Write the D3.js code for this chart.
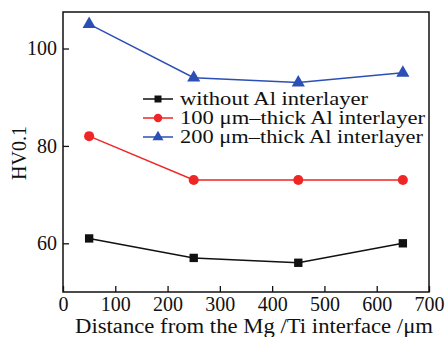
<!DOCTYPE html>
<html>
<head>
<meta charset="utf-8">
<script src="https://cdn.jsdelivr.net/npm/d3@7/dist/d3.min.js"></script>
<style>
  body { margin: 0; background: #fff; }
</style>
</head>
<body>
<div id="chart"></div>
<script>
// data
var distances = [50, 250, 450, 650];
var withoutAl = [61, 57, 56, 60];
var al100 = [82, 73, 73, 73];
var al200 = [105, 94, 93, 95];
var seriesNames = ["without Al interlayer", "100 \u03bcm\u2013thick Al interlayer", "200 \u03bcm\u2013thick Al interlayer"];
var xTicks = [0, 100, 200, 300, 400, 500, 600, 700];
var yTicks = [60, 80, 100];

var svgWidth = 448;
var svgHeight = 337;
var margin = {left: 63, right: 19, top: 12, bottom: 45};
var w = svgWidth - margin.left - margin.right;
var h = svgHeight - margin.top - margin.bottom;
var serif = "'Liberation Serif', 'Times New Roman', Times, serif";

var svg = d3.select("#chart")
  .append("svg")
  .attr("width", svgWidth)
  .attr("height", svgHeight)
  .attr("font-family", serif);

var g = svg.append("g")
  .attr("transform", "translate(" + margin.left + "," + margin.top + ")");

var xScale = d3.scaleLinear().domain([0, 700]).range([0, w]);
var yScale = d3.scaleLinear().domain([50, 107.5]).range([h, 0]);

// frame
g.append("rect")
  .attr("width", w)
  .attr("height", h)
  .attr("fill", "none")
  .attr("stroke", "#111")
  .attr("stroke-width", 1.5);

// axes, ticks pointing in
var xAxis = g.append("g")
  .attr("transform", "translate(0," + h + ")")
  .call(d3.axisBottom(xScale).tickValues(xTicks).tickSizeInner(-6).tickSizeOuter(0).tickPadding(5));
var yAxis = g.append("g")
  .call(d3.axisLeft(yScale).tickValues(yTicks).tickSizeInner(-6).tickSizeOuter(0).tickPadding(6));

[xAxis, yAxis].forEach(function(ax) {
  ax.attr("font-family", serif).attr("font-size", 20);
  ax.select(".domain").remove();
  ax.selectAll("line").attr("stroke", "#111").attr("stroke-width", 1.3);
  ax.selectAll("text").attr("fill", "#111");
});
xAxis.selectAll("text").attr("dy", "0.7em");

// axis titles
svg.append("text")
  .attr("x", 254)
  .attr("y", 333)
  .attr("text-anchor", "middle")
  .attr("font-size", 20)
  .attr("textLength", 358)
  .attr("lengthAdjust", "spacingAndGlyphs")
  .attr("fill", "#111")
  .text("Distance from the Mg /Ti interface /\u03bcm");

svg.append("text")
  .attr("transform", "translate(26,153) rotate(-90)")
  .attr("text-anchor", "middle")
  .attr("font-size", 20)
  .attr("fill", "#111")
  .text("HV0.1");

var series = [
  {name: seriesNames[0], values: withoutAl, color: "#111111", shape: d3.symbolSquare, size: 70, textW: 188},
  {name: seriesNames[1], values: al100, color: "#f02626", shape: d3.symbolCircle, size: 80, textW: 245},
  {name: seriesNames[2], values: al200, color: "#2b4fb5", shape: d3.symbolTriangle, size: 75, textW: 243}
];

var createLine = d3.line()
  .x(function(d, i) { return xScale(distances[i]); })
  .y(function(d) { return yScale(d); });

series.forEach(function(s) {
  g.append("path")
    .attr("d", createLine(s.values))
    .attr("fill", "none")
    .attr("stroke", s.color)
    .attr("stroke-width", 1.5);

  g.selectAll(null)
    .data(s.values)
    .enter()
    .append("path")
    .attr("transform", function(d, i) { return "translate(" + xScale(distances[i]) + "," + yScale(d) + ")"; })
    .attr("d", d3.symbol().type(s.shape).size(s.size))
    .attr("fill", s.color);
});

// legend
var legend = svg.append("g").attr("transform", "translate(143,99)");
series.forEach(function(s, i) {
  var row = legend.append("g").attr("transform", "translate(0," + (i * 19) + ")");
  row.append("line")
    .attr("x1", 0).attr("x2", 30)
    .attr("stroke", s.color)
    .attr("stroke-width", 1.5);
  row.append("path")
    .attr("transform", "translate(15,0)")
    .attr("d", d3.symbol().type(s.shape).size(s.size * 0.7))
    .attr("fill", s.color);
  row.append("text")
    .attr("x", 37)
    .attr("dy", "0.34em")
    .attr("font-size", 18)
    .attr("textLength", s.textW)
    .attr("lengthAdjust", "spacingAndGlyphs")
    .attr("fill", "#111")
    .text(s.name);
});
</script>
</body>
</html>
